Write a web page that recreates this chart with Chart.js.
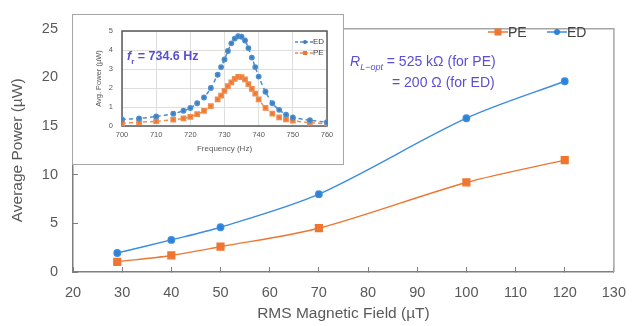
<!DOCTYPE html>
<html>
<head>
<meta charset="utf-8">
<script src="https://cdn.jsdelivr.net/npm/chart.js@4.4.0/dist/chart.umd.min.js"></script>
<style>
  body { margin: 0; background: #fff; }
  #wrap { position: relative; width: 643px; height: 326px; font-family: "Liberation Sans", Arial, sans-serif; }
  #main { position: absolute; left: 0; top: 0; }
  #insetBox { position: absolute; left: 72px; top: 14px; width: 272px; height: 151px; border: 1px solid #a6a6a6; background: #fff; box-sizing: border-box; }
  #inset { position: absolute; left: 0; top: 0; }
  .note { position: absolute; color: #5a4fd3; white-space: nowrap; line-height: 1; }
  .leg { position: absolute; display: flex; align-items: center; white-space: nowrap; color: #404040; }
  .leg svg { display: block; }
</style>
</head>
<body>
<div id="wrap">
  <canvas id="main" width="643" height="326"></canvas>
  <div id="insetBox"><canvas id="inset" width="270" height="149"></canvas></div>

  <div class="leg" style="left:488px;top:24px;font-size:14px;">
    <svg width="20" height="10"><line x1="0" y1="5" x2="20" y2="5" stroke="#ee7631" stroke-width="1.5"/><rect x="6.5" y="1.5" width="7" height="7" fill="#ee7631"/></svg><span>PE</span>
  </div>
  <div class="leg" style="left:547px;top:24px;font-size:14px;">
    <svg width="20" height="10"><line x1="0" y1="5" x2="20" y2="5" stroke="#3b8ddf" stroke-width="1.5"/><circle cx="10" cy="5" r="3" fill="#2f80d8"/></svg><span>ED</span>
  </div>

  <div class="leg" style="left:295px;top:37px;font-size:8px;">
    <svg width="18" height="8"><line x1="0" y1="4" x2="18" y2="4" stroke="#4f8fcc" stroke-width="1.3" stroke-dasharray="3,2"/><circle cx="10" cy="4" r="2" fill="#3a7cc0"/></svg><span>ED</span>
  </div>
  <div class="leg" style="left:295px;top:48px;font-size:8px;">
    <svg width="18" height="8"><line x1="0" y1="4" x2="18" y2="4" stroke="#f08c4c" stroke-width="1.3" stroke-dasharray="3,2"/><rect x="8" y="2" width="4" height="4" fill="#ee7631"/></svg><span>PE</span>
  </div>

  <div class="note" style="left:127px;top:50px;font-size:12.5px;font-weight:bold;"><i>f</i><sub style="font-size:8px">r</sub> = 734.6 Hz</div>
  <div class="note" style="left:350px;top:54px;font-size:14px;"><i>R</i><sub style="font-size:9px"><i>L−opt</i></sub> = 525 kΩ (for PE)</div>
  <div class="note" style="left:392px;top:75px;font-size:14px;">= 200 Ω (for ED)</div>
</div>

<script>
// main chart data
const fieldUT = [29, 40, 50, 70, 100, 120];
const powerPE = [1.05, 1.7, 2.6, 4.5, 9.2, 11.5];
const powerED = [1.95, 3.3, 4.6, 8.0, 15.8, 19.6];

// inset: frequency sweep
const freqHz = [700, 705, 710, 715, 718, 720, 722, 724, 726, 728, 729, 730, 731, 732, 733, 734, 735, 736, 737, 738, 739, 740, 742, 744, 746, 748, 750, 755, 760];
const insetED = [0.35, 0.4, 0.5, 0.65, 0.8, 0.95, 1.2, 1.5, 2.0, 2.7, 3.1, 3.5, 3.95, 4.35, 4.6, 4.72, 4.7, 4.5, 4.1, 3.6, 3.1, 2.6, 1.8, 1.2, 0.85, 0.6, 0.45, 0.3, 0.2];
const insetPE = [0.15, 0.2, 0.25, 0.33, 0.4, 0.48, 0.62, 0.8, 1.05, 1.4, 1.6, 1.85, 2.1, 2.3, 2.48, 2.58, 2.57, 2.45, 2.2, 1.95, 1.7, 1.4, 0.95, 0.65, 0.45, 0.35, 0.28, 0.18, 0.12];

const pairs = (xs, ys) => xs.map((x, i) => ({ x: x, y: ys[i] }));

const frameMain = {
  id: "frameMain",
  beforeDatasetsDraw(chart) {
    const a = chart.chartArea, ctx = chart.ctx;
    ctx.save();
    ctx.strokeStyle = "#a6a6a6";
    ctx.lineWidth = 1.5;
    ctx.beginPath();
    ctx.moveTo(a.left, a.top);
    ctx.lineTo(a.right, a.top);
    ctx.lineTo(a.right, a.bottom);
    ctx.stroke();
    ctx.restore();
  }
};

const frameInset = {
  id: "frameInset",
  beforeDatasetsDraw(chart) {
    const a = chart.chartArea, ctx = chart.ctx;
    ctx.save();
    ctx.strokeStyle = "#595959";
    ctx.lineWidth = 1.5;
    ctx.strokeRect(a.left, a.top, a.right - a.left, a.bottom - a.top);
    ctx.restore();
  }
};

const fam = "'Liberation Sans', Arial, sans-serif";

new Chart(document.getElementById("main"), {
  type: "line",
  data: {
    datasets: [
      {
        label: "PE",
        data: pairs(fieldUT, powerPE),
        borderColor: "#ee7631",
        backgroundColor: "#ee7631",
        borderWidth: 1.4,
        pointStyle: "rect",
        pointRadius: 4.8,
        tension: 0.3
      },
      {
        label: "ED",
        data: pairs(fieldUT, powerED),
        borderColor: "#3b8ddf",
        backgroundColor: "#2f80d8",
        borderWidth: 1.4,
        pointStyle: "circle",
        pointRadius: 3.2,
        tension: 0.3
      }
    ]
  },
  options: {
    responsive: false,
    animation: false,
    layout: { padding: { top: 15, right: 28, left: 0, bottom: 0 } },
    plugins: { legend: { display: false }, tooltip: { enabled: false } },
    scales: {
      x: {
        type: "linear",
        min: 20, max: 130,
        ticks: { stepSize: 10, padding: 17, color: "#595959", font: { family: fam, size: 14.5 } },
        grid: { drawOnChartArea: false, tickLength: -5, color: "#7f7f7f" },
        border: { color: "#7f7f7f", width: 1.5 },
        title: { display: true, text: "RMS Magnetic Field (µT)", color: "#595959", font: { family: fam, size: 15.5 }, padding: { top: 0, bottom: 3 } },
        afterFit(s) { s.height = 54; }
      },
      y: {
        min: 0, max: 25,
        ticks: { stepSize: 5, padding: 20, color: "#595959", font: { family: fam, size: 14.5 } },
        grid: { drawOnChartArea: false, tickLength: -5, color: "#7f7f7f" },
        border: { color: "#7f7f7f", width: 1.5 },
        title: { display: true, text: "Average Power (µW)", color: "#595959", font: { family: fam, size: 15.5 }, padding: { top: 8, bottom: 0 } },
        afterFit(s) { s.width = 73; }
      }
    }
  },
  plugins: [frameMain]
});

new Chart(document.getElementById("inset"), {
  type: "line",
  data: {
    datasets: [
      {
        label: "ED",
        data: pairs(freqHz, insetED),
        borderColor: "#4f8fcc",
        backgroundColor: "#3a7cc0",
        borderWidth: 1.5,
        borderDash: [4, 3],
        pointStyle: "circle",
        pointRadius: 2.2,
        tension: 0.3
      },
      {
        label: "PE",
        data: pairs(freqHz, insetPE),
        borderColor: "#f08c4c",
        backgroundColor: "#ee7631",
        borderWidth: 1.5,
        borderDash: [4, 3],
        pointStyle: "rect",
        pointRadius: 3,
        tension: 0.3
      }
    ]
  },
  options: {
    responsive: false,
    animation: false,
    layout: { padding: { top: 16, right: 16, left: 0, bottom: 0 } },
    plugins: { legend: { display: false }, tooltip: { enabled: false } },
    scales: {
      x: {
        type: "linear",
        min: 700, max: 760,
        ticks: { stepSize: 10, padding: 4, color: "#595959", font: { family: fam, size: 7.5 } },
        grid: { color: "#dedede", drawTicks: false },
        border: { display: false },
        title: { display: true, text: "Frequency (Hz)", color: "#595959", font: { family: fam, size: 8 }, padding: { top: 0, bottom: 10 } },
        afterFit(s) { s.height = 38; }
      },
      y: {
        min: 0, max: 5,
        ticks: { stepSize: 1, padding: 9, color: "#595959", font: { family: fam, size: 7.5 } },
        grid: { color: "#dedede", drawTicks: false },
        border: { display: false },
        title: { display: true, text: "Avg. Power (µW)", color: "#595959", font: { family: fam, size: 7.5 }, padding: { top: 21, bottom: 0 } },
        afterFit(s) { s.width = 49; }
      }
    }
  },
  plugins: [frameInset]
});
</script>
</body>
</html>
